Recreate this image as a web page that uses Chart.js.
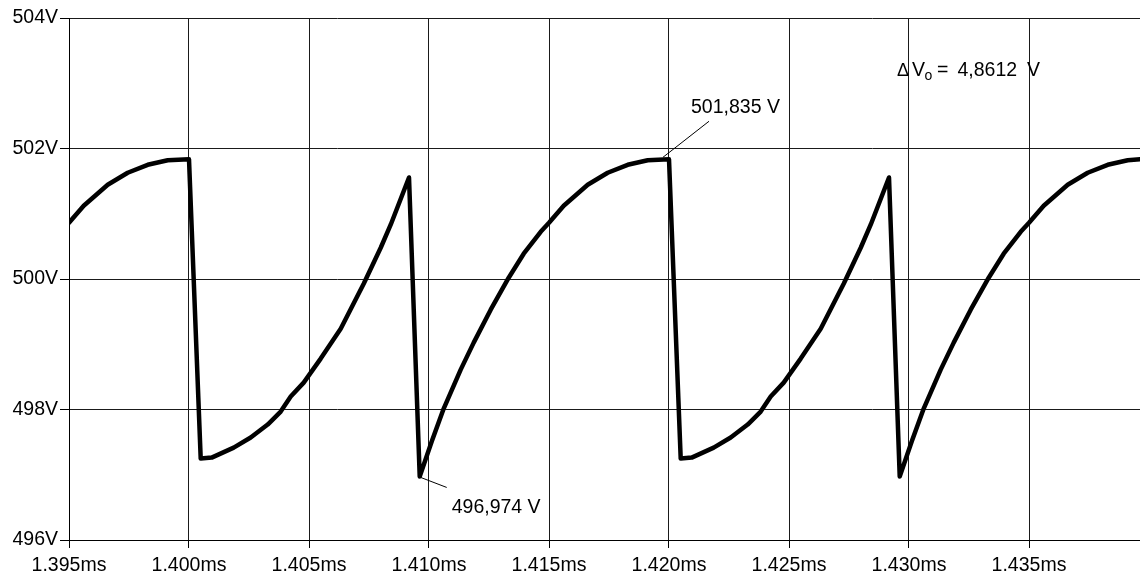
<!DOCTYPE html>
<html>
<head>
<meta charset="utf-8">
<script src="https://cdn.jsdelivr.net/npm/chart.js@4/dist/chart.umd.min.js"></script>
<style>
  html, body { margin: 0; padding: 0; background: #fff; }
  #wrap { width: 1140px; height: 576px; position: relative; }
</style>
</head>
<body>
<div id="wrap"><canvas id="c" width="1140" height="576"></canvas></div>
<script>
// ---- Data (time in ms, output voltage in V) ----
const timeMs = [
  1.395000, 1.395613, 1.396613, 1.397446, 1.398279, 1.399113, 1.400000,
  1.400488, 1.400946, 1.401863, 1.402571, 1.403279, 1.403821, 1.404238,
  1.404779, 1.405488, 1.406321, 1.407279, 1.407988, 1.408404, 1.409167,
  1.409613, 1.410113, 1.410613, 1.411321, 1.411863, 1.412571, 1.413321,
  1.413946, 1.414654, 1.415000, 1.415613, 1.416613, 1.417446, 1.418279,
  1.419113, 1.420000,
  1.420488, 1.420946, 1.421863, 1.422571, 1.423279, 1.423821, 1.424238,
  1.424779, 1.425488, 1.426321, 1.427279, 1.427988, 1.428404, 1.429167,
  1.429613, 1.430113, 1.430613, 1.431321, 1.431863, 1.432571, 1.433321,
  1.433946, 1.434654, 1.435000, 1.435613, 1.436613, 1.437446, 1.438279,
  1.439113, 1.439625
];
const voltageV = [
  500.862, 501.123, 501.444, 501.628, 501.750, 501.819, 501.835,
  497.248, 497.263, 497.416, 497.570, 497.769, 497.968, 498.198,
  498.412, 498.780, 499.239, 499.928, 500.479, 500.832, 501.556,
  496.974, 497.508, 498.014, 498.611, 499.025, 499.530, 500.020,
  500.387, 500.724, 500.862, 501.123, 501.444, 501.628, 501.750,
  501.819, 501.835,
  497.248, 497.263, 497.416, 497.570, 497.769, 497.968, 498.198,
  498.412, 498.780, 499.239, 499.928, 500.479, 500.832, 501.556,
  496.974, 497.508, 498.014, 498.611, 499.025, 499.530, 500.020,
  500.387, 500.724, 500.862, 501.123, 501.444, 501.628, 501.750,
  501.819, 501.835
];
const xTickValues = [1.395, 1.400, 1.405, 1.410, 1.415, 1.420, 1.425, 1.430, 1.435];
const xTickLabels = ['1.395ms', '1.400ms', '1.405ms', '1.410ms', '1.415ms', '1.420ms', '1.425ms', '1.430ms', '1.435ms'];
const yTickValues = [496, 498, 500, 502, 504];
const yTickLabels = ['496V', '498V', '500V', '502V', '504V'];
const xRange = [1.395, 1.439625];
const yRange = [496, 504];

// Annotations
const maxMarker = { x: 1.420000, y: 501.835, text: '501,835 V' };
const minMarker = { x: 1.409613, y: 496.974, text: '496,974 V' };
const deltaParts = ['\u0394', 'V', 'o', '=', '4,8612', 'V'];

const FONT = "'Liberation Sans', Arial, sans-serif";
const FSIZE = 19.5;

const points = timeMs.map((t, i) => ({ x: t, y: voltageV[i] }));

const annotPlugin = {
  id: 'annot',
  afterDatasetsDraw(chart) {
    const ctx = chart.ctx;
    const xs = chart.scales.x, ys = chart.scales.y;
    ctx.save();
    ctx.fillStyle = '#000';
    ctx.strokeStyle = '#000';
    ctx.lineWidth = 1;
    ctx.textBaseline = 'alphabetic';
    ctx.textAlign = 'left';
    ctx.font = FSIZE + 'px ' + FONT;

    // max marker
    let px = xs.getPixelForValue(maxMarker.x), py = ys.getPixelForValue(maxMarker.y);
    ctx.beginPath();
    ctx.moveTo(px - 6, py - 2);
    ctx.lineTo(px + 40, py - 38);
    ctx.stroke();
    ctx.fillText(maxMarker.text, px + 22, py - 46);

    // min marker
    px = xs.getPixelForValue(minMarker.x); py = ys.getPixelForValue(minMarker.y);
    ctx.beginPath();
    ctx.moveTo(px + 1, py + 1);
    ctx.lineTo(px + 27, py + 11);
    ctx.stroke();
    ctx.fillText(minMarker.text, px + 32, py + 37);

    // delta text
    const area = chart.chartArea;
    const x0 = area.left + 828, base = 76;
    ctx.font = '300 18px ' + FONT;
    ctx.fillText(deltaParts[0], x0, base);
    ctx.font = FSIZE + 'px ' + FONT;
    ctx.fillText(deltaParts[1], x0 + 15, base);
    ctx.font = '14px ' + FONT;
    ctx.fillText(deltaParts[2], x0 + 27.5, base + 4);
    ctx.font = FSIZE + 'px ' + FONT;
    ctx.fillText(deltaParts[3], x0 + 40, base);
    ctx.fillText(deltaParts[4], x0 + 60.5, base);
    ctx.fillText(deltaParts[5], x0 + 130, base);
    ctx.restore();
  }
};

new Chart(document.getElementById('c'), {
  type: 'line',
  data: {
    datasets: [{
      data: points,
      borderColor: '#000',
      borderWidth: 4.5,
      pointRadius: 0,
      tension: 0,
      fill: false,
      borderJoinStyle: 'round',
      borderCapStyle: 'round'
    }]
  },
  options: {
    responsive: false,
    animation: false,
    devicePixelRatio: 1,
    layout: { padding: { top: 18, right: 0, left: 0, bottom: 0 } },
    plugins: { legend: { display: false }, tooltip: { enabled: false } },
    scales: {
      x: {
        type: 'linear',
        min: xRange[0], max: xRange[1],
        afterBuildTicks(scale) { scale.ticks = xTickValues.map(v => ({ value: v })); },
        afterFit(scale) { scale.height = 36; },
        ticks: {
          autoSkip: false, maxRotation: 0, padding: 6,
          color: '#000', font: { family: FONT, size: FSIZE },
          callback(value) {
            const i = xTickValues.findIndex(v => Math.abs(v - value) < 1e-9);
            return i >= 0 ? xTickLabels[i] : '';
          }
        },
        grid: { color: '#1a1a1a', lineWidth: 1, tickLength: 8, tickColor: '#000', drawTicks: true },
        border: { display: true, color: '#000', width: 1 }
      },
      y: {
        type: 'linear',
        min: yRange[0], max: yRange[1],
        afterBuildTicks(scale) { scale.ticks = yTickValues.map(v => ({ value: v })); },
        afterFit(scale) { scale.width = 69; },
        ticks: {
          padding: 2, color: '#000', font: { family: FONT, size: FSIZE },
          callback(value) {
            const i = yTickValues.findIndex(v => Math.abs(v - value) < 1e-9);
            return i >= 0 ? yTickLabels[i] : '';
          }
        },
        grid: { color: '#1a1a1a', lineWidth: 1, tickLength: 9, tickColor: '#000', drawTicks: true },
        border: { display: true, color: '#000', width: 1 }
      }
    }
  },
  plugins: [annotPlugin]
});
</script>
</body>
</html>
